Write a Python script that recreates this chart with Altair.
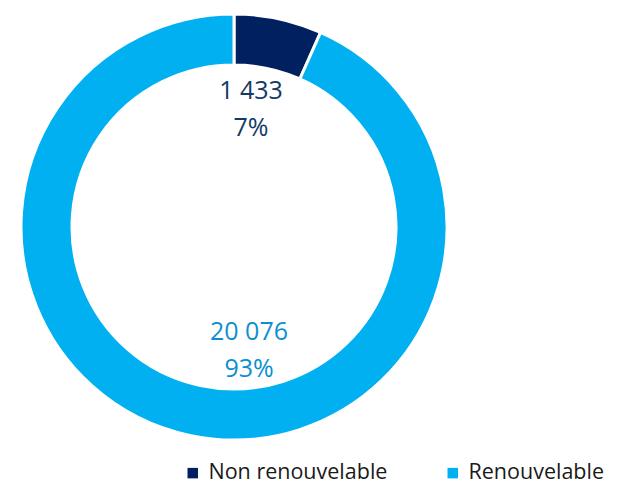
import altair as alt
import pandas as pd

categories = ["Non renouvelable", "Renouvelable"]
values = [1433, 20076]
value_labels = ["1 433", "20 076"]
pct_labels = ["7%", "93%"]
colors = ["#002060", "#00B0F0"]
label_colors = ["#123A66", "#0B8FD2"]

df = pd.DataFrame({
    "cat": categories,
    "val": values,
    "vlab": value_labels,
    "plab": pct_labels,
    "order": [0, 1],
})

base = alt.Chart(df).encode(
    theta=alt.Theta("val:Q", stack=True),
    order=alt.Order("order:Q"),
)

arc = base.mark_arc(outerRadius=213, innerRadius=162, stroke="white", strokeWidth=3).encode(
    color=alt.Color(
        "cat:N",
        scale=alt.Scale(domain=categories, range=colors),
        sort=categories,
        legend=alt.Legend(
            title=None,
            orient="none",
            legendX=174,
            legendY=449,
            direction="horizontal",
            symbolType="square",
            symbolSize=110,
            symbolStrokeWidth=0,
            labelFontSize=21.5,
            labelFont="Open Sans",
            labelColor="#1a1a1a",
            labelLimit=400,
            columnPadding=54,
            labelOffset=5,
            padding=0,
        ),
    )
)

offsets = {"Non renouvelable": (-10, -9), "Renouvelable": (-12, -22)}
layers = [arc]
for i, c in enumerate(categories):
    dx, dy = offsets[c]
    t = base.mark_text(
        radius=130, fontSize=25, font="Open Sans", lineHeight=37,
        color=label_colors[i], dx=dx, dy=dy, baseline="middle",
    ).encode(text="lines:N").transform_calculate(
        lines="[datum.vlab, datum.plab]"
    ).transform_filter(alt.datum.cat == c)
    layers.append(t)

chart = alt.layer(*layers).properties(
    width=452, height=428, padding=0,
).configure_view(stroke=None)

chart.save("out.html", embed_options={"renderer": "svg", "actions": False})
